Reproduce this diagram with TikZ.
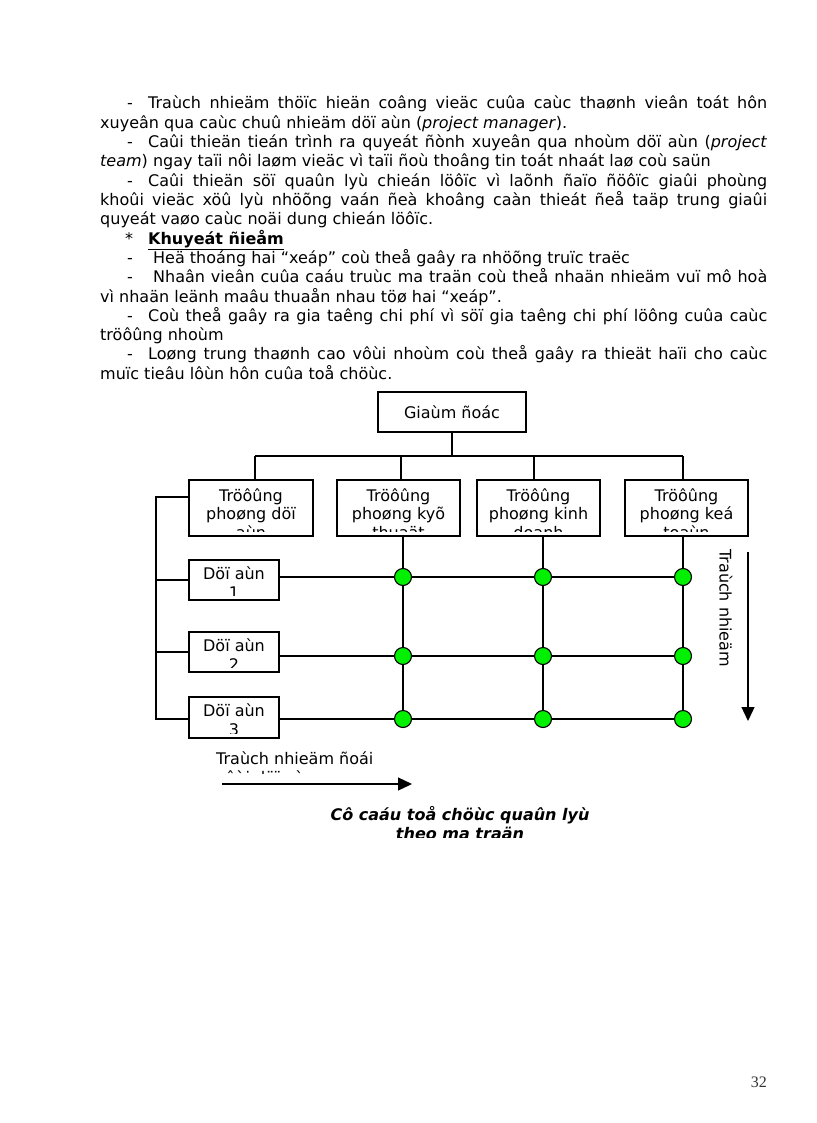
\documentclass[tikz,border=0pt]{standalone}
\usepackage{fontspec}
\setmainfont{DejaVu Sans}
\newfontfamily\pgnum{Liberation Serif}
\usetikzlibrary{arrows.meta}
\definecolor{nodegreen}{RGB}{0,240,0}
\begin{document}
\begin{tikzpicture}[x=1pt,y=-1pt,
  bt/.style={anchor=base west,inner sep=0pt,font=\fontsize{16}{19}\selectfont},
  lbl/.style={anchor=base,inner sep=0pt,font=\fontsize{16}{19}\selectfont},
  box/.style={draw,line width=1.3pt,inner sep=0pt,font=\fontsize{16}{19}\selectfont},
  ln/.style={line width=1.1pt},
  thk/.style={line width=1.6pt},
  dot/.style={circle,draw,line width=1.1pt,fill=nodegreen,minimum size=17pt,inner sep=0pt},
  arr/.style={line width=1.3pt,-{Triangle[length=14pt,width=13pt]}}
]
\useasboundingbox (0,0) rectangle (816,1123);

% ---------------- body text ----------------
\node[bt] (m1) at (127,109) {-};
\node[bt] (t1) at (148,109) {\makebox[619pt][s]{Traùch nhieäm thöïc hieän coâng vieäc cuûa caùc thaønh vieân toát hôn}};
\node[bt] (t2) at (100,128.3) {xuyeân qua caùc chuû nhieäm döï aùn (\textit{project manager}).};
\node[bt] (m2) at (127,147.6) {-};
\node[bt] (t3) at (148,147.6) {\makebox[619pt][s]{Caûi thieän tieán trình ra quyeát ñònh xuyeân qua nhoùm döï aùn (\textit{project}}};
\node[bt] (t4) at (100,166.9) {\textit{team}) ngay taïi nôi laøm vieäc vì taïi ñoù thoâng tin toát nhaát laø coù saün};
\node[bt] (m3) at (127,186.2) {-};
\node[bt] (t5) at (148,186.2) {\makebox[619pt][s]{Caûi thieän söï quaûn lyù chieán löôïc vì laõnh ñaïo ñöôïc giaûi phoùng}};
\node[bt] (t6) at (100,205.5) {\makebox[667pt][s]{khoûi vieäc xöû lyù nhöõng vaán ñeà khoâng caàn thieát ñeå taäp trung giaûi}};
\node[bt] (t7) at (100,224.8) {quyeát vaøo caùc noäi dung chieán löôïc.};
\node[bt] (m4) at (125,244.1) {*};
\node[bt] (t8) at (148,244.1) {\textbf{\underline{Khuyeát ñieåm}}};
\node[bt] (m5) at (127,263.4) {-};
\node[bt] (t9) at (153,263.4) {Heä thoáng hai “xeáp” coù theå gaây ra nhöõng truïc traëc};
\node[bt] (m6) at (127,282.7) {-};
\node[bt] (t10) at (153,282.7) {\makebox[614pt][s]{Nhaân vieân cuûa caáu truùc ma traän coù theå nhaän nhieäm vuï mô hoà}};
\node[bt] (t11) at (100,302) {vì nhaän leänh maâu thuaån nhau töø hai “xeáp”.};
\node[bt] (m7) at (127,321.3) {-};
\node[bt] (t12) at (148,321.3) {\makebox[619pt][s]{Coù theå gaây ra gia taêng chi phí vì söï gia taêng chi phí löông cuûa caùc}};
\node[bt] (t13) at (100,340.6) {tröôûng nhoùm};
\node[bt] (m8) at (127,359.9) {-};
\node[bt] (t14) at (148,359.9) {\makebox[619pt][s]{Loøng trung thaønh cao vôùi nhoùm coù theå gaây ra thieät haïi cho caùc}};
\node[bt] (t15) at (100,379.2) {muïc tieâu lôùn hôn cuûa toå chöùc.};

% ---------------- top boxes ----------------
\node[box,minimum width=148pt,minimum height=40pt] (gd) at (452,412) {Giaùm ñoác};
\node[box,minimum width=124pt,minimum height=56pt] (p1) at (251,508) {};
\node[box,minimum width=123pt,minimum height=56pt] (p2) at (398.5,508) {};
\node[box,minimum width=123pt,minimum height=56pt] (p3) at (538.5,508) {};
\node[box,minimum width=123pt,minimum height=56pt] (p4) at (686.5,508) {};

\begin{scope}
\clip ([yshift=5pt]p1.south west) rectangle (p1.north east);
\path (p1.north) ++(0,22) node[lbl] (p1a) {Tröôûng} ++(0,18.5) node[lbl] (p1b) {phoøng döï} ++(0,18.5) node[lbl] (p1c) {aùn};
\end{scope}
\begin{scope}
\clip ([yshift=5pt]p2.south west) rectangle (p2.north east);
\path (p2.north) ++(0,22) node[lbl] (p2a) {Tröôûng} ++(0,18.5) node[lbl] (p2b) {phoøng kyõ} ++(0,18.5) node[lbl] (p2c) {thuaät};
\end{scope}
\begin{scope}
\clip ([yshift=5pt]p3.south west) rectangle (p3.north east);
\path (p3.north) ++(0,22) node[lbl] (p3a) {Tröôûng} ++(0,18.5) node[lbl] (p3b) {phoøng kinh} ++(0,18.5) node[lbl] (p3c) {doanh};
\end{scope}
\begin{scope}
\clip ([yshift=5pt]p4.south west) rectangle (p4.north east);
\path (p4.north) ++(0,22) node[lbl] (p4a) {Tröôûng} ++(0,18.5) node[lbl] (p4b) {phoøng keá} ++(0,18.5) node[lbl] (p4c) {toaùn};
\end{scope}

% bus
\coordinate (bL) at (255,456);
\coordinate (bR) at (683,456);
\coordinate (q2) at (401,456);
\coordinate (q3) at (534,456);
\draw[thk] (gd.south) -- (gd.south |- bL);
\draw[thk] (bL) -- (bR);
\draw[thk] (bL) -- (bL |- p1.north);
\draw[thk] (q2) -- (q2 |- p2.north);
\draw[thk] (q3) -- (q3 |- p3.north);
\draw[thk] (bR) -- (bR |- p4.north);

% ---------------- project boxes ----------------
\node[box,minimum width=90pt,minimum height=40pt] (d1) at (234,580) {};
\node[box,minimum width=90pt,minimum height=40pt] (d2) at (234,652) {};
\node[box,minimum width=90pt,minimum height=41pt] (d3) at (234,717.5) {};
\begin{scope}
\clip ([yshift=5pt]d1.south west) rectangle (d1.north east);
\path (d1.north) ++(0,20) node[lbl] (d1a) {Döï aùn} ++(0,19) node[lbl] (d1b) {1};
\end{scope}
\begin{scope}
\clip ([yshift=5pt]d2.south west) rectangle (d2.north east);
\path (d2.north) ++(0,20) node[lbl] (d2a) {Döï aùn} ++(0,19) node[lbl] (d2b) {2};
\end{scope}
\begin{scope}
\clip ([yshift=5pt]d3.south west) rectangle (d3.north east);
\path (d3.north) ++(0,20) node[lbl] (d3a) {Döï aùn} ++(0,19) node[lbl] (d3b) {3};
\end{scope}

% left bracket
\coordinate (k0) at (156,497);
\coordinate (k1) at (156,580);
\coordinate (k2) at (156,652);
\coordinate (k3) at (156,719);
\draw[ln] (p1.west |- k0) -- (k0) -- (k3) -- (d3.west |- k3);
\draw[ln] (k1) -- (d1.west |- k1);
\draw[ln] (k2) -- (d2.west |- k2);

% grid
\coordinate (g11) at (403,577); \coordinate (g12) at (543,577); \coordinate (g13) at (683,577);
\coordinate (g21) at (403,656); \coordinate (g22) at (543,656); \coordinate (g23) at (683,656);
\coordinate (g31) at (403,719); \coordinate (g32) at (543,719); \coordinate (g33) at (683,719);
\coordinate (h3) at (300,719);
\draw[ln] (d1.east |- g11) -- (g13);
\draw[ln] (d2.east |- g21) -- (g23);
\draw[ln] (d3.east |- g31) -- (h3);
\draw[line width=1.5pt] (h3) -- (g33);
\draw[ln] (p2.south -| g11) -- (g31);
\draw[ln] (p3.south -| g12) -- (g32);
\draw[line width=1.6pt] (p4.south -| g13) -- (g33);

\foreach \r in {1,2,3}{\foreach \c in {1,2,3}{
  \node[dot] (c\r\c) at (g\r\c) {};
}}

% right arrow and label
\coordinate (ra1) at (748,552);
\coordinate (ra2) at (748,721);
\draw[arr] (ra1) -- (ra2);
\node[inner sep=0pt,font=\fontsize{16}{19}\selectfont,rotate=-90,anchor=west] (rv) at (726,549) {Traùch nhieäm};

% bottom arrow and label
\begin{scope}
\clip (200,740) rectangle (420,773);
\path (216,764) node[bt] (rl1) {Traùch nhieäm ñoái} ++(0,19) node[bt] (rl2) {vôùi döï aùn};
\end{scope}
\coordinate (ba1) at (222,784);
\coordinate (ba2) at (412,784);
\draw[arr] (ba1) -- (ba2);

% caption
\begin{scope}
\clip (300,795) rectangle (620,837);
\path (460,820) node[lbl,font=\fontsize{16}{19}\selectfont\bfseries\itshape] (cap1) {Cô caáu toå chöùc quaûn lyù}
      ++(0,19) node[lbl,font=\fontsize{16}{19}\selectfont\bfseries\itshape] (cap2) {theo ma traän};
\end{scope}

% page number
\node[anchor=base east,inner sep=0pt,font=\pgnum\fontsize{16}{19}\selectfont,text=black!80] (pg) at (767,1087) {32};
\end{tikzpicture}
\end{document}
